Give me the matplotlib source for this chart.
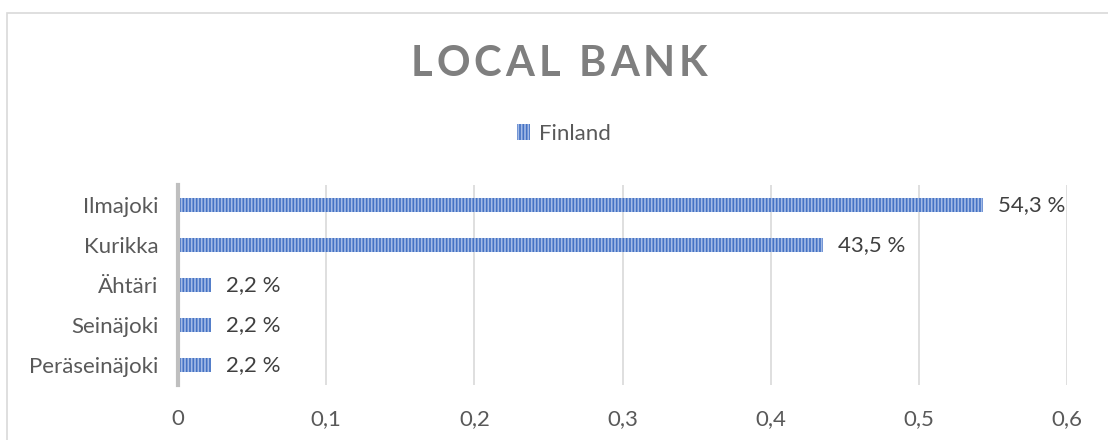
import matplotlib
matplotlib.use("Agg")
import matplotlib.pyplot as plt
from matplotlib.patches import Rectangle, Patch

plt.rcParams['font.family'] = ['Lato', 'DejaVu Sans']
plt.rcParams['hatch.linewidth'] = 1.2

title = "LOCAL BANK"
series_name = "Finland"
towns = ["Ilmajoki", "Kurikka", "Ähtäri", "Seinäjoki", "Peräseinäjoki"]
shares = [0.543, 0.435, 0.022, 0.022, 0.022]
x_ticks = [0, 0.1, 0.2, 0.3, 0.4, 0.5, 0.6]

W, H = 1108, 440
fig = plt.figure(figsize=(W / 100, H / 100), dpi=100)

# chart frame
fig.patches.append(Rectangle((7 / W, -0.1), 1.2, 1 - 13 / H + 0.1, transform=fig.transFigure,
                             fill=False, edgecolor='#d9d9d9', linewidth=1.2))

ax = fig.add_axes([178 / W, 1 - 385 / H, (1067 - 178) / W, 200 / H])

bar_face = '#4472c4'
bar_hatch = '#a4bbe6'
ypos = list(range(len(towns)))
ax.barh(ypos, shares, height=0.34, color=bar_face, edgecolor=bar_hatch,
        linewidth=0, hatch='|||||')

for y, v in zip(ypos, shares):
    label = f"{v * 100:.1f} %".replace('.', ',')
    ax.annotate(label, (v, y), xytext=(15, 0), textcoords='offset pixels',
                va='center', ha='left', fontsize=16, color='#404040')

ax.set_xlim(0, 0.6)
ax.set_ylim(len(towns) - 0.5, -0.5)
ax.set_xticks(x_ticks)
ax.set_xticklabels([("%g" % t).replace('.', ',') for t in x_ticks])
ax.set_yticks(ypos)
ax.set_yticklabels(towns)
ax.tick_params(axis='both', length=0, labelsize=16, labelcolor='#595959')
ax.tick_params(axis='x', pad=17)
ax.tick_params(axis='y', pad=14)

ax.grid(axis='x', color='#d9d9d9', linewidth=1.2)
ax.set_axisbelow(True)
for side in ['top', 'right', 'bottom']:
    ax.spines[side].set_visible(False)
ax.spines['left'].set_color('#bfbfbf')
ax.spines['left'].set_linewidth(3)

# title with letter spacing: lay out each glyph separately
renderer = fig.canvas.get_renderer()
tracking = 4
title_kw = dict(fontsize=30, fontweight='bold', color='#7f7f7f', va='center', ha='left')
widths = []
for ch in title:
    t = fig.text(0, 0, ch if ch != ' ' else 'n', **title_kw)
    w = t.get_window_extent(renderer).width
    widths.append(w * 0.45 if ch == ' ' else w)
    t.remove()
total = sum(widths) + tracking * (len(title) - 1)
x = 559 - total / 2
for ch, w in zip(title, widths):
    if ch != ' ':
        fig.text(x / W, 1 - 64 / H, ch, **title_kw)
    x += w + tracking

handle = Patch(facecolor=bar_face, edgecolor=bar_hatch, linewidth=0, hatch='|||||')
fig.legend([handle], [series_name], loc='center', bbox_to_anchor=(564 / W, 1 - 134 / H),
           frameon=False, fontsize=16, labelcolor='#595959', handlelength=0.6,
           handleheight=0.75, handletextpad=0.4)

fig.savefig("out.png", dpi=100, facecolor='white')
